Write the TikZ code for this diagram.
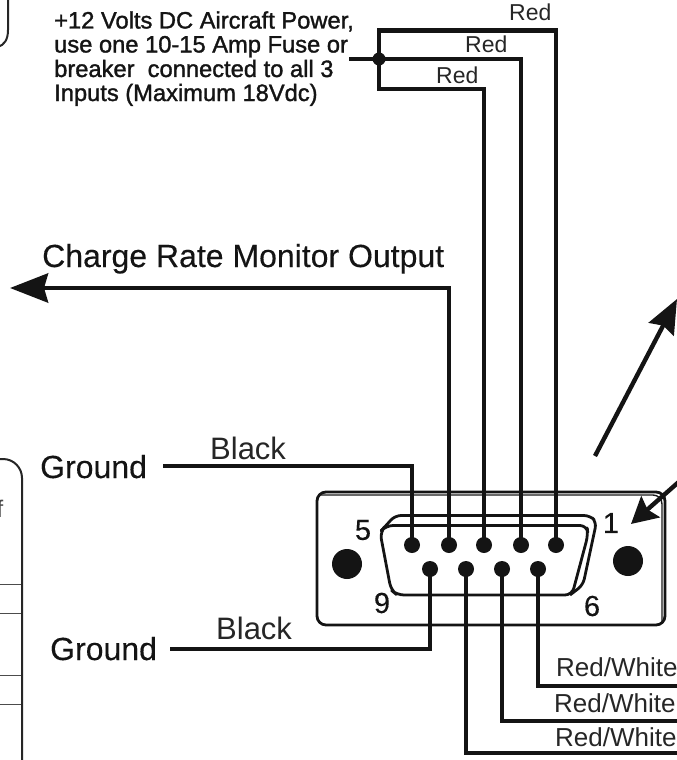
\documentclass[tikz,border=0pt]{standalone}
\usepackage{fontspec}
\setmainfont{Liberation Sans}
\newfontfamily\heavyf[FakeBold=1.4]{Liberation Sans}
\newfontfamily\medf[FakeBold=0.25]{Liberation Sans}
\usetikzlibrary{arrows.meta,calc}
\tikzset{
  wire/.style={line width=4.8pt,line cap=butt,line join=miter,color=black!92},
  thinl/.style={line width=2.8pt,color=black!92,line join=round},
  pin/.style={circle,fill=black!92,inner sep=0pt,minimum size=16pt},
  hole/.style={circle,fill=black!92,inner sep=0pt,minimum size=30pt},
  lbl/.style={inner sep=0pt,font=\fontsize{23}{23}\selectfont,text=black!85,anchor=base west},
  toptext/.style={inner sep=0pt,font=\heavyf\fontsize{23.7}{23.7}\selectfont,text=black!92,anchor=base west},
  big/.style={inner sep=0pt,font=\medf\fontsize{32}{32}\selectfont,text=black!92,anchor=base west},
  num/.style={inner sep=0pt,font=\medf\fontsize{29}{29}\selectfont,text=black!92},
  arr/.style={line width=4.8pt,color=black!92,-{Stealth[length=38pt,width=29pt,inset=4pt]}},
  tbl/.style={line width=1pt,color=black!70}
}
\begin{document}
\begin{tikzpicture}[x=1pt,y=-1pt]
\useasboundingbox (0,0) rectangle (677,760);
\begin{scope}
\clip (0,0) rectangle (677,760);
% left fragments
\draw[line width=2pt,black!85] (8,0) -- (8,30) .. controls (8,40) and (4,45) .. (-2,47);
\draw[line width=2pt,black!85] (-2,459) -- (3,459) .. controls (14,459) and (22,468) .. (22,478) -- (22,762);
\coordinate (t1l) at (0,584); \coordinate (t1r) at (21,584);
\coordinate (t2l) at (0,613); \coordinate (t2r) at (21,613);
\coordinate (t3l) at (0,675); \coordinate (t3r) at (21,675);
\coordinate (t4l) at (0,704); \coordinate (t4r) at (21,704);
\draw[tbl] (t1l)--(t1r) (t2l)--(t2r) (t3l)--(t3r) (t4l)--(t4r);
\node[inner sep=0pt,font=\fontsize{24}{24}\selectfont,text=black!70,anchor=base] (ftext) at (0,517) {f};
% connector body
\draw[thinl,rounded corners=9pt] (317,492) rectangle (665,625);
\draw[line width=1.4pt,black!90,rounded corners=9pt] (319,495) -- (662,495) -- (662,622);
\draw[thinl,rounded corners=7pt] (380,532) -- (386,525.5) -- (587,525.5) -- (588,535) -- (572,595) -- (397,595) -- (391,590) -- cycle;
\draw[thinl,rounded corners=6pt] (381,531) -- (395,515.5) -- (590,515.5) -- (596.5,522) -- (583,585) -- (570,595);
\node[hole] (hl) at (347,564) {};
\node[hole] (hr) at (628,561) {};
% pins
\node[pin] (p5) at (412,545) {};
\node[pin] (p4) at (449,545) {};
\node[pin] (p3) at (484,545) {};
\node[pin] (p2) at (521,545) {};
\node[pin] (p1) at (556,545) {};
\node[pin] (p9) at (430,569) {};
\node[pin] (p8) at (466,569) {};
\node[pin] (p7) at (502,569) {};
\node[pin] (p6) at (538,569) {};
\node[num] (n5) at (363,530) {5};
\node[num] (n1) at (611,523) {1};
\node[num] (n9) at (382,603) {9};
\node[num] (n6) at (592,606) {6};
% power wiring
\node[circle,fill=black!92,inner sep=0pt,minimum size=13pt] (jn) at (379,59) {};
\coordinate (pw) at (349,59);
\coordinate (jt) at (379,30.5);
\coordinate (jb) at (379,89);
\draw[wire] (p1.center) |- (jt) -- (jb) -- (p3.center |- jb) -- (p3.center);
\draw[wire] (p2.center) |- (pw);
% charge output
\coordinate (chg) at (10,288);
\draw[arr] (p4.center) |- (chg);
% grounds
\coordinate (g1) at (163,466);
\coordinate (g2) at (170,649);
\draw[wire] (g1) -| (p5.center);
\draw[wire] (g2) -| (p9.center);
% red/white
\coordinate (rw1) at (679,686);
\coordinate (rw2) at (679,721);
\coordinate (rw3) at (679,753);
\draw[wire] (p6.center) |- (rw1);
\draw[wire] (p7.center) |- (rw2);
\draw[wire] (p8.center) |- (rw3);
% pointer arrows
\coordinate (a1s) at (595,456);
\coordinate (a1e) at (677,299);
\draw[line width=4.4pt,black!92,-{Stealth[length=34pt,width=28pt,inset=4pt]}] (a1s) -- (a1e);
\coordinate (a2s) at (690,472);
\coordinate (a2e) at (631,524);
\draw[line width=4.4pt,black!92,-{Stealth[length=26pt,width=28pt,inset=4pt]}] (a2s) -- (a2e);
% text
\node[toptext] (top1) at (54,28.5) {+12 Volts DC Aircraft Power,};
\node[toptext] (top2) at (54,52.5) {use one 10-15 Amp Fuse or};
\node[toptext] (top3) at (54,77) {breaker\ \ connected to all 3};
\node[toptext] (top4) at (54,101) {Inputs (Maximum 18Vdc)};
\node[lbl] (r1) at (509,21) {Red};
\node[lbl] (r2) at (465,52.7) {Red};
\node[lbl] (r3) at (436,83) {Red};
\node[big] (chgt) at (42,267) {Charge Rate Monitor Output};
\node[big] (gt1) at (40,478) {Ground};
\node[big] (gt2) at (50,660) {Ground};
\node[lbl,font=\fontsize{31}{31}\selectfont] (bk1) at (210,459) {Black};
\node[lbl,font=\fontsize{31}{31}\selectfont] (bk2) at (216,639) {Black};
\node[lbl,font=\fontsize{26}{26}\selectfont] (w1) at (556,676) {Red/White};
\node[lbl,font=\fontsize{26}{26}\selectfont] (w2) at (554,712) {Red/White};
\node[lbl,font=\fontsize{26}{26}\selectfont] (w3) at (555,746) {Red/White};
\end{scope}
\end{tikzpicture}
\end{document}
